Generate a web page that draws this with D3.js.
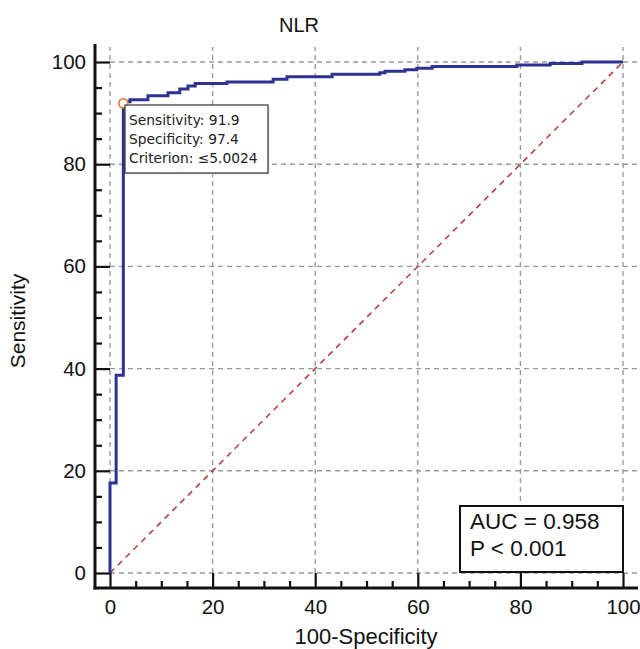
<!DOCTYPE html>
<html>
<head>
<meta charset="utf-8">
<script src="https://cdn.jsdelivr.net/npm/d3@7"></script>
<style>
  html, body { margin: 0; padding: 0; background: #fff; }
  svg { display: block; font-family: "Liberation Sans", Arial, sans-serif; }
</style>
</head>
<body>
<svg id="chart" width="640" height="649"></svg>
<script>
// ROC step curve: x = 100-Specificity at which the level starts, y = Sensitivity level
const rocFpr = [0, 0, 1.2, 2.6, 2.6, 3.9, 7.4, 11.3, 13.6, 15.2, 16.6, 22.8, 31.8, 34.5, 43.3, 52.6, 53.6, 57.5, 59.8, 62.8, 79.3, 85.8, 92.0, 100];
const rocTpr = [0, 17.6, 38.7, 91.9, 92.2, 92.6, 93.4, 94.0, 94.7, 95.3, 95.8, 96.1, 96.6, 97.1, 97.6, 97.9, 98.2, 98.5, 98.8, 99.1, 99.4, 99.7, 100, 100];
const diagonal = [0, 100];
const majorTicks = [0, 20, 40, 60, 80, 100];
const minorTicks = [5, 10, 15, 25, 30, 35, 45, 50, 55, 65, 70, 75, 85, 90, 95];
const criterionPoint = { fpr: 2.6, tpr: 91.9 };
const tooltipLines = ["Sensitivity: 91.9", "Specificity: 97.4", "Criterion: \u22645.0024"];
const aucLines = ["AUC = 0.958", "P < 0.001"];
const title = "NLR";
const xLabel = "100-Specificity";
const yLabel = "Sensitivity";

const svg = d3.select("#chart");
const x = d3.scaleLinear().domain([0, 100]).range([110, 623]);
const y = d3.scaleLinear().domain([0, 100]).range([573, 62]);
const spineX = 95, spineY = 588;
const gridExt = 15;

// grid
const grid = svg.append("g").attr("stroke", "#9a9a9a").attr("stroke-width", 1.4)
  .attr("stroke-dasharray", "5,4").attr("fill", "none");
grid.selectAll("line.v").data(majorTicks).join("line")
  .attr("x1", d => x(d)).attr("x2", d => x(d))
  .attr("y1", y(0)).attr("y2", y(100) - gridExt);
grid.selectAll("line.h").data(majorTicks).join("line")
  .attr("y1", d => y(d)).attr("y2", d => y(d))
  .attr("x1", x(0)).attr("x2", x(100) + gridExt);

// axes (offset spines)
const xAxisMajor = d3.axisBottom(x).tickValues(majorTicks).tickSizeInner(-(spineY - y(0))).tickSizeOuter(0).tickPadding(11);
const xAxisMinor = d3.axisBottom(x).tickValues(minorTicks).tickSizeInner(-7).tickSizeOuter(0).tickFormat("");
const yAxisMajor = d3.axisLeft(y).tickValues(majorTicks).tickSizeInner(-(x(0) - spineX)).tickSizeOuter(0).tickPadding(9);
const yAxisMinor = d3.axisLeft(y).tickValues(minorTicks).tickSizeInner(-7).tickSizeOuter(0).tickFormat("");

function styleAxis(g) {
  g.select(".domain").remove();
  g.selectAll(".tick line").attr("stroke", "#111").attr("stroke-width", 2.2);
  g.selectAll(".tick text").attr("fill", "#111").attr("font-size", 20.5)
    .attr("font-family", "'Liberation Sans', Arial, sans-serif");
}
svg.append("g").attr("transform", `translate(0,${spineY})`).call(xAxisMajor).call(styleAxis);
svg.append("g").attr("transform", `translate(0,${spineY})`).call(xAxisMinor).call(styleAxis);
svg.append("g").attr("transform", `translate(${spineX},0)`).call(yAxisMajor).call(styleAxis);
svg.append("g").attr("transform", `translate(${spineX},0)`).call(yAxisMinor).call(styleAxis);

// spines
svg.append("line").attr("x1", spineX).attr("x2", spineX).attr("y1", 44).attr("y2", spineY + 1.5)
  .attr("stroke", "#111").attr("stroke-width", 3);
svg.append("line").attr("x1", spineX - 1.5).attr("x2", 638).attr("y1", spineY).attr("y2", spineY)
  .attr("stroke", "#111").attr("stroke-width", 3);

// diagonal reference line
svg.append("line")
  .attr("x1", x(diagonal[0])).attr("y1", y(diagonal[0]))
  .attr("x2", x(diagonal[1])).attr("y2", y(diagonal[1]))
  .attr("stroke", "#b8403f").attr("stroke-width", 1.6).attr("stroke-dasharray", "6,5");

// ROC curve
const rocData = rocFpr.map((f, i) => [f, rocTpr[i]]);
svg.append("path").datum(rocData)
  .attr("d", d3.line().x(d => x(d[0])).y(d => y(d[1])).curve(d3.curveStepAfter))
  .attr("fill", "none").attr("stroke", "#2d3192").attr("stroke-width", 3);

// criterion marker
svg.append("circle").attr("cx", x(criterionPoint.fpr)).attr("cy", y(criterionPoint.tpr)).attr("r", 4.5)
  .attr("fill", "#fff").attr("stroke", "#ef7a3a").attr("stroke-width", 1.8);

// tooltip box
const tb = svg.append("g").attr("transform", "translate(125,105)");
tb.append("rect").attr("x", 1.5).attr("y", 1.5).attr("width", 143).attr("height", 68).attr("fill", "#ddd");
tb.append("rect").attr("width", 143).attr("height", 68).attr("fill", "#fff").attr("stroke", "#333").attr("stroke-width", 1.2);
tb.selectAll("text").data(tooltipLines).join("text")
  .attr("x", 4).attr("y", (d, i) => 20 + i * 19)
  .attr("font-family", "'DejaVu Sans', Verdana, sans-serif").attr("font-size", 13.8).attr("fill", "#222")
  .text(d => d);

// AUC box
const ab = svg.append("g").attr("transform", "translate(460,506)");
ab.append("rect").attr("width", 163).attr("height", 66).attr("fill", "#fff").attr("stroke", "#111").attr("stroke-width", 2);
ab.selectAll("text").data(aucLines).join("text")
  .attr("x", 10).attr("y", (d, i) => 23 + i * 27)
  .attr("font-size", 22.5).attr("fill", "#111")
  .text(d => d);

// title and axis labels
svg.append("text").attr("x", 299).attr("y", 32).attr("text-anchor", "middle")
  .attr("font-size", 20).attr("fill", "#111").text(title);
svg.append("text").attr("x", 366).attr("y", 644).attr("text-anchor", "middle")
  .attr("font-size", 22).attr("fill", "#111").text(xLabel);
svg.append("text").attr("transform", "translate(25,321) rotate(-90)").attr("text-anchor", "middle")
  .attr("font-size", 21).attr("fill", "#111").text(yLabel);
</script>
</body>
</html>
